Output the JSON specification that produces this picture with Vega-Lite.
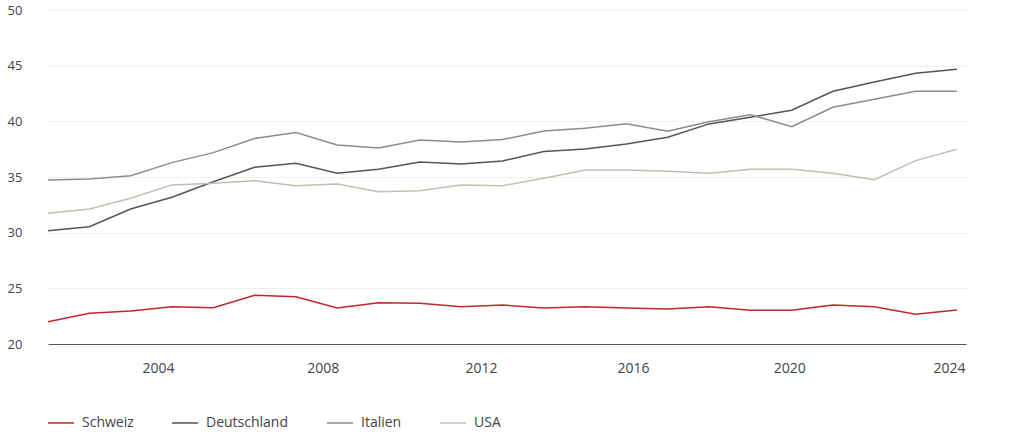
{
  "$schema": "https://vega.github.io/schema/vega-lite/v6.json",
  "width": 918,
  "height": 334,
  "autosize": {"type": "none"},
  "padding": {"left": 48, "top": 10, "right": 58, "bottom": 90},
  "background": "white",
  "config": {
    "font": "Open Sans",
    "view": {"stroke": null},
    "axis": {"labelFont": "Open Sans", "labelColor": "#444444"},
    "legend": {"labelFont": "Open Sans"}
  },
  "data": {
    "values": [
      {"year": 2002, "country": "Schweiz", "value": 22.0},
      {"year": 2003, "country": "Schweiz", "value": 22.76},
      {"year": 2004, "country": "Schweiz", "value": 22.96},
      {"year": 2005, "country": "Schweiz", "value": 23.35},
      {"year": 2006, "country": "Schweiz", "value": 23.26},
      {"year": 2007, "country": "Schweiz", "value": 24.38},
      {"year": 2008, "country": "Schweiz", "value": 24.25},
      {"year": 2009, "country": "Schweiz", "value": 23.23},
      {"year": 2010, "country": "Schweiz", "value": 23.71},
      {"year": 2011, "country": "Schweiz", "value": 23.66},
      {"year": 2012, "country": "Schweiz", "value": 23.35},
      {"year": 2013, "country": "Schweiz", "value": 23.5},
      {"year": 2014, "country": "Schweiz", "value": 23.23},
      {"year": 2015, "country": "Schweiz", "value": 23.35},
      {"year": 2016, "country": "Schweiz", "value": 23.23},
      {"year": 2017, "country": "Schweiz", "value": 23.14},
      {"year": 2018, "country": "Schweiz", "value": 23.35},
      {"year": 2019, "country": "Schweiz", "value": 23.03},
      {"year": 2020, "country": "Schweiz", "value": 23.03},
      {"year": 2021, "country": "Schweiz", "value": 23.5},
      {"year": 2022, "country": "Schweiz", "value": 23.35},
      {"year": 2023, "country": "Schweiz", "value": 22.67},
      {"year": 2024, "country": "Schweiz", "value": 23.05},
      {"year": 2002, "country": "Deutschland", "value": 30.18},
      {"year": 2003, "country": "Deutschland", "value": 30.54},
      {"year": 2004, "country": "Deutschland", "value": 32.13},
      {"year": 2005, "country": "Deutschland", "value": 33.18},
      {"year": 2006, "country": "Deutschland", "value": 34.58},
      {"year": 2007, "country": "Deutschland", "value": 35.88},
      {"year": 2008, "country": "Deutschland", "value": 36.24},
      {"year": 2009, "country": "Deutschland", "value": 35.34},
      {"year": 2010, "country": "Deutschland", "value": 35.69},
      {"year": 2011, "country": "Deutschland", "value": 36.35},
      {"year": 2012, "country": "Deutschland", "value": 36.17},
      {"year": 2013, "country": "Deutschland", "value": 36.44},
      {"year": 2014, "country": "Deutschland", "value": 37.28},
      {"year": 2015, "country": "Deutschland", "value": 37.52},
      {"year": 2016, "country": "Deutschland", "value": 37.97},
      {"year": 2017, "country": "Deutschland", "value": 38.57},
      {"year": 2018, "country": "Deutschland", "value": 39.77},
      {"year": 2019, "country": "Deutschland", "value": 40.37},
      {"year": 2020, "country": "Deutschland", "value": 41.0},
      {"year": 2021, "country": "Deutschland", "value": 42.7},
      {"year": 2022, "country": "Deutschland", "value": 43.54},
      {"year": 2023, "country": "Deutschland", "value": 44.32},
      {"year": 2024, "country": "Deutschland", "value": 44.68},
      {"year": 2002, "country": "Italien", "value": 34.73},
      {"year": 2003, "country": "Italien", "value": 34.82},
      {"year": 2004, "country": "Italien", "value": 35.12},
      {"year": 2005, "country": "Italien", "value": 36.29},
      {"year": 2006, "country": "Italien", "value": 37.19},
      {"year": 2007, "country": "Italien", "value": 38.45},
      {"year": 2008, "country": "Italien", "value": 38.99},
      {"year": 2009, "country": "Italien", "value": 37.88},
      {"year": 2010, "country": "Italien", "value": 37.61},
      {"year": 2011, "country": "Italien", "value": 38.33},
      {"year": 2012, "country": "Italien", "value": 38.15},
      {"year": 2013, "country": "Italien", "value": 38.36},
      {"year": 2014, "country": "Italien", "value": 39.14},
      {"year": 2015, "country": "Italien", "value": 39.38},
      {"year": 2016, "country": "Italien", "value": 39.79},
      {"year": 2017, "country": "Italien", "value": 39.11},
      {"year": 2018, "country": "Italien", "value": 39.97},
      {"year": 2019, "country": "Italien", "value": 40.6},
      {"year": 2020, "country": "Italien", "value": 39.52},
      {"year": 2021, "country": "Italien", "value": 41.26},
      {"year": 2022, "country": "Italien", "value": 41.98},
      {"year": 2023, "country": "Italien", "value": 42.7},
      {"year": 2024, "country": "Italien", "value": 42.7},
      {"year": 2002, "country": "USA", "value": 31.74},
      {"year": 2003, "country": "USA", "value": 32.13},
      {"year": 2004, "country": "USA", "value": 33.09},
      {"year": 2005, "country": "USA", "value": 34.29},
      {"year": 2006, "country": "USA", "value": 34.44},
      {"year": 2007, "country": "USA", "value": 34.67},
      {"year": 2008, "country": "USA", "value": 34.22},
      {"year": 2009, "country": "USA", "value": 34.38},
      {"year": 2010, "country": "USA", "value": 33.68},
      {"year": 2011, "country": "USA", "value": 33.77},
      {"year": 2012, "country": "USA", "value": 34.29},
      {"year": 2013, "country": "USA", "value": 34.22},
      {"year": 2014, "country": "USA", "value": 34.89},
      {"year": 2015, "country": "USA", "value": 35.63},
      {"year": 2016, "country": "USA", "value": 35.63},
      {"year": 2017, "country": "USA", "value": 35.51},
      {"year": 2018, "country": "USA", "value": 35.34},
      {"year": 2019, "country": "USA", "value": 35.7},
      {"year": 2020, "country": "USA", "value": 35.7},
      {"year": 2021, "country": "USA", "value": 35.34},
      {"year": 2022, "country": "USA", "value": 34.76},
      {"year": 2023, "country": "USA", "value": 36.47},
      {"year": 2024, "country": "USA", "value": 37.49}
    ]
  },
  "mark": {"type": "line", "strokeWidth": 1.5, "clip": false},
  "encoding": {
    "x": {
      "field": "year",
      "type": "quantitative",
      "scale": {"domain": [2002, 2024.22], "nice": false, "zero": false},
      "axis": {
        "title": null,
        "values": [2004.66, 2008.65, 2012.48, 2016.16, 2019.94, 2023.81],
        "labelExpr": "format(4 * round(datum.value / 4), 'd')",
        "grid": false,
        "ticks": false,
        "tickSize": 0,
        "domain": true,
        "domainColor": "#555555",
        "domainWidth": 1.2,
        "labelFontSize": 14,
        "labelPadding": 17,
        "labelFlush": false
      }
    },
    "y": {
      "field": "value",
      "type": "quantitative",
      "scale": {"domain": [20, 50], "nice": false, "zero": false},
      "axis": {
        "title": null,
        "values": [20, 25, 30, 35, 40, 45, 50],
        "grid": true,
        "gridColor": "#f0f0f0",
        "gridWidth": 1,
        "domain": false,
        "ticks": false,
        "tickSize": 0,
        "labelAlign": "left",
        "labelBaseline": "middle",
        "labelPadding": 41,
        "labelFontSize": 13
      }
    },
    "color": {
      "field": "country",
      "type": "nominal",
      "scale": {
        "domain": ["Schweiz", "Deutschland", "Italien", "USA"],
        "range": ["#C0272D", "#555555", "#8C8C8C", "#C3BEB2"]
      },
      "legend": {
        "title": null,
        "orient": "none",
        "direction": "horizontal",
        "legendX": -1,
        "legendY": 399,
        "padding": 0,
        "symbolType": "stroke",
        "symbolSize": 676,
        "symbolStrokeWidth": 1.5,
        "labelOffset": 7,
        "columnPadding": 35,
        "labelFontSize": 14,
        "labelColor": "#444444"
      }
    }
  }
}
